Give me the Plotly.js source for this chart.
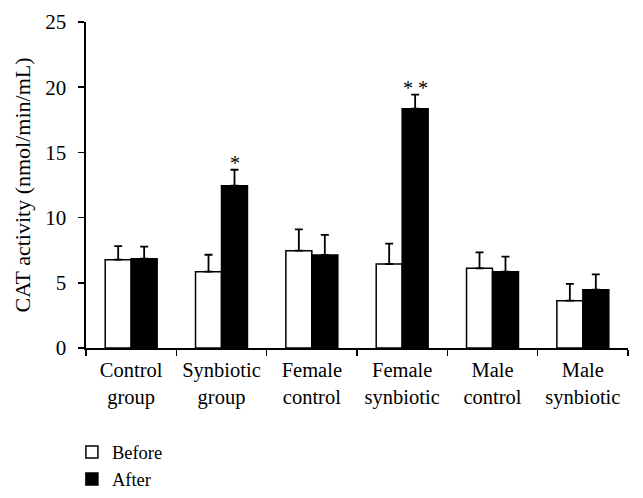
<!DOCTYPE html>
<html>
<head>
<meta charset="utf-8">
<script src="https://cdn.plot.ly/plotly-3.0.1.min.js"></script>
<style>html,body{margin:0;padding:0;background:#fff;}#chart{width:643px;height:498px;}</style>
</head>
<body>
<div id="chart"></div>
<script>
const categories = ["Control<br>group", "Synbiotic<br>group", "Female<br>control", "Female<br>synbiotic", "Male<br>control", "Male<br>synbiotic"];
const beforeValues = [6.77, 5.85, 7.46, 6.44, 6.11, 3.63];
const beforeErrors = [1.05, 1.30, 1.64, 1.56, 1.22, 1.28];
const afterValues = [6.85, 12.45, 7.13, 18.35, 5.85, 4.47];
const afterErrors = [0.92, 1.22, 1.54, 1.08, 1.15, 1.17];
const significance = ["", "*", "", "* *", "", ""];
const yTicks = [0, 5, 10, 15, 20, 25];

const FONT = "Liberation Serif, Times New Roman, serif";

const traces = [
  {
    type: "bar", name: "Before", x: categories, y: beforeValues,
    marker: {color: "#ffffff", line: {color: "#000000", width: 1.5}},
    error_y: {type: "data", array: beforeErrors, arrayminus: beforeErrors.map(() => 0), symmetric: false, color: "#000000", thickness: 1.8, width: 4}
  },
  {
    type: "bar", name: "After", x: categories, y: afterValues,
    marker: {color: "#000000", line: {color: "#000000", width: 1.5}},
    error_y: {type: "data", array: afterErrors, arrayminus: afterErrors.map(() => 0), symmetric: false, color: "#000000", thickness: 1.8, width: 4}
  }
];

const annotations = significance.map((s, i) => s ? {
  x: categories[i], y: afterValues[i] + afterErrors[i], xref: "x", yref: "y",
  text: s, showarrow: false, xshift: 13, yanchor: "bottom", yshift: -6,
  font: {family: FONT, size: 20, color: "#000"}
} : null).filter(a => a);

const layout = {
  width: 643, height: 498,
  margin: {l: 86, r: 15, t: 22, b: 150, autoexpand: false},
  paper_bgcolor: "#fff", plot_bgcolor: "#fff",
  font: {family: FONT, size: 20, color: "#000"},
  barmode: "group", bargap: 0.425, bargroupgap: 0,
  showlegend: true,
  legend: {x: -0.026, xanchor: "left", y: -0.262, yanchor: "top", orientation: "v",
    font: {family: FONT, size: 18.5, color: "#000"}, itemwidth: 30, tracegroupgap: 0, bgcolor: "rgba(0,0,0,0)"},
  xaxis: {
    type: "category", showline: true, linecolor: "#000", linewidth: 1.6,
    ticks: "outside", tickson: "boundaries", ticklen: 6, tickcolor: "#000", tickwidth: 1.5,
    showgrid: false, zeroline: false, tickfont: {family: FONT, size: 20.5, color: "#000"}, ticklabelstandoff: 3
  },
  yaxis: {
    range: [0, 25], tickvals: yTicks, ticktext: yTicks.map(String),
    showline: true, linecolor: "#000", linewidth: 1.6,
    ticks: "outside", ticklen: 6, tickcolor: "#000", tickwidth: 1.5, ticklabelstandoff: 8,
    showgrid: false, zeroline: false, tickfont: {family: FONT, size: 21, color: "#000"},
    title: {text: "CAT activity (nmol/min/mL)", font: {family: FONT, size: 22, color: "#000"}, standoff: 8}
  },
  annotations: annotations
};

Plotly.newPlot("chart", traces, layout, {displayModeBar: false, staticPlot: true});
</script>
</body>
</html>
